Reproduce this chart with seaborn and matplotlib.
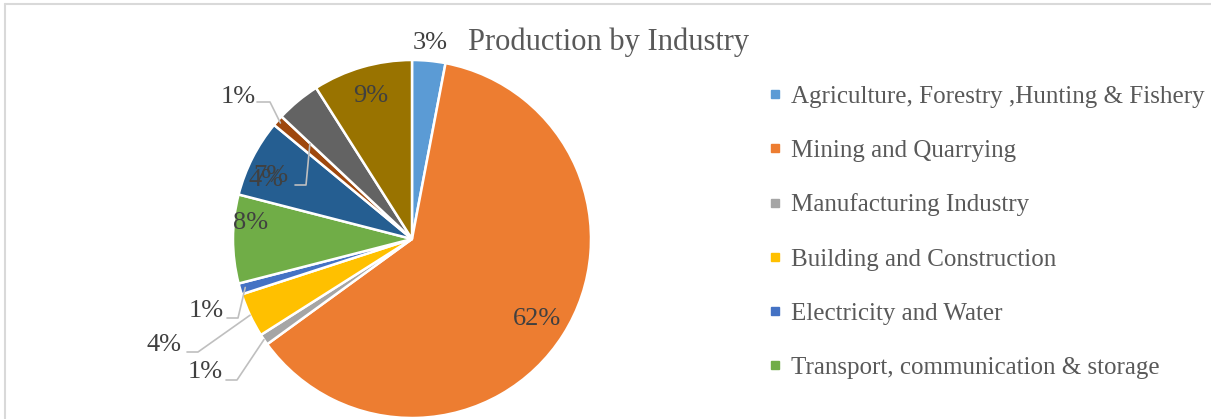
import matplotlib
matplotlib.use("Agg")
import numpy as np
import matplotlib.pyplot as plt
from matplotlib.lines import Line2D
import seaborn as sns

# Share of production by industry (percent), clockwise from 12 o'clock
categories = [
    "Agriculture, Forestry ,Hunting & Fishery",
    "Mining and Quarrying",
    "Manufacturing Industry",
    "Building and Construction",
    "Electricity and Water",
    "Transport, communication & storage",
    "Trade, Restaurants & Hotels",
    "Finance & Insurance",
    "Real Estate & Business Services",
    "Government Services",
]
shares = [3, 62, 1, 4, 1, 8, 7, 1, 4, 9]
colors = ["#5B9BD5", "#ED7D31", "#A5A5A5", "#FFC000", "#4472C4",
          "#70AD47", "#255E91", "#9E480E", "#636363", "#997300"]
legend_shown = 6

sns.set_theme(style="white")
serif = ["Liberation Serif", "DejaVu Serif"]
plt.rcParams["font.family"] = serif

W, H = 1211, 419
fig = plt.figure(figsize=(W / 100, H / 100), dpi=100)
fig.patch.set_facecolor("white")

# pie area: centre (412, 239) px, radius 179 px
cx, cy, r = 412, 239, 179
ax = fig.add_axes([(cx - r) / W, (H - cy - r) / H, 2 * r / W, 2 * r / H])
palette = sns.color_palette(colors)
wedges, _ = ax.pie(shares, colors=palette, startangle=90, counterclock=False,
                   radius=1.0, wedgeprops=dict(edgecolor="white", linewidth=1.8))
ax.set_xlim(-1, 1)
ax.set_ylim(-1, 1)
ax.set_aspect("auto")
ax.axis("off")

label_color = "#404040"
leader_color = "#BFBFBF"
lab_fs = 19


def px(x, y):
    """pixel position -> pie data units"""
    return (x - cx) / r, (cy - y) / r


def mid_angle(w):
    return np.deg2rad((w.theta1 + w.theta2) / 2)


# labels drawn inside their slices: index -> radial distance
inside = {1: 0.83, 5: 0.9, 6: 0.86, 9: 0.83}
inside_nudge = {5: (0, 0.09), 6: (-0.02, -0.04)}
for i, d in inside.items():
    a = mid_angle(wedges[i])
    dx, dy = inside_nudge.get(i, (0, 0))
    ax.text(d * np.cos(a) + dx, d * np.sin(a) + dy, f"{shares[i]}%",
            ha="center", va="center", fontsize=lab_fs, color=label_color)

# label just outside the first slice
a = mid_angle(wedges[0])
ax.text(1.1 * np.cos(a), 1.1 * np.sin(a), f"{shares[0]}%", ha="center",
        va="center", fontsize=lab_fs, color=label_color, clip_on=False)

# labels with leader lines: text centre, line start, elbow (pixels), end radius
leaders = {
    2: ((205, 372), (226, 380), (237, 380), 1.0),
    3: ((164, 345), (187, 352), (198, 352), 1.0),
    4: ((206, 311), (227, 318), (238, 318), 0.97),
    7: ((238, 97), (257, 102), (270, 102), 0.98),
    8: ((266, 180), (295, 185), (306, 185), 0.78),
}
for i, (tpos, start, elbow, rad) in leaders.items():
    a = mid_angle(wedges[i])
    if i == 8:
        a = np.deg2rad(137)
    end = (rad * np.cos(a), rad * np.sin(a))
    s, e = px(*start), px(*elbow)
    ax.plot([s[0], e[0], end[0]], [s[1], e[1], end[1]], color=leader_color,
            lw=1.2, clip_on=False, zorder=5)
    tx, ty = px(*tpos)
    ax.text(tx, ty, f"{shares[i]}%", ha="center", va="center",
            fontsize=lab_fs, color=label_color, clip_on=False, zorder=6)

# title
fig.text(609 / W, 1 - 42 / H, "Production by Industry", ha="center",
         va="center", fontsize=22, color="#595959")

# legend
handles = [Line2D([], [], marker="s", linestyle="none", markersize=6,
                  markerfacecolor=c, markeredgecolor=c)
           for c in colors[:legend_shown]]
leg = fig.legend(handles, categories[:legend_shown], loc="upper left",
                 bbox_to_anchor=(768 / W, 1 - 85 / H), frameon=False,
                 fontsize=18, labelspacing=1.27, handlelength=0.55,
                 handletextpad=0.38, borderpad=0, borderaxespad=0)
for t in leg.get_texts():
    t.set_color("#595959")

# chart-area border (left and top edges)
bc = "#D9D9D9"
fig.add_artist(Line2D([5 / W, 5 / W], [0, 1 - 4 / H], color=bc, lw=1.5,
                      transform=fig.transFigure))
fig.add_artist(Line2D([5 / W, 1], [1 - 4 / H, 1 - 4 / H], color=bc, lw=1.5,
                      transform=fig.transFigure))

fig.savefig("out.png", dpi=100, facecolor="white")
